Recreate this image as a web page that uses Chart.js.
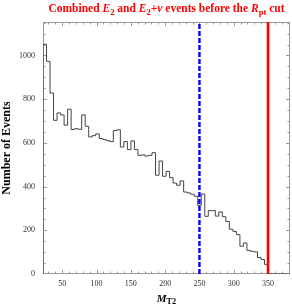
<!DOCTYPE html>
<html>
<head>
<meta charset="utf-8">
<script src="https://cdn.jsdelivr.net/npm/chart.js@4.4.1/dist/chart.umd.min.js"></script>
<style>
  body { margin: 0; background: #fff; }
  #wrap { position: relative; width: 292px; height: 306px; }
  #titulo { position: absolute; left: 43px; width: 247px; top: 2px; line-height: 14px; text-align: center;
            font: bold 11.5px "Liberation Serif", serif; color: #ff0000; white-space: nowrap; }
  #etiquetaX { position: absolute; left: 43px; width: 247px; top: 292px; line-height: 14px; text-align: center;
               font: bold 11px "Liberation Serif", serif; color: #000; white-space: nowrap; }
  sub { font-size: 75%; line-height: 0; position: relative; vertical-align: baseline; top: 0.3em; }
  i { font-style: italic; }
</style>
</head>
<body>
<div id="wrap">
  <canvas id="grafica" width="292" height="306"></canvas>
  <div id="titulo">Combined <i>E</i><sub>2</sub> and <i>E</i><sub>2</sub>+<i>ν</i> events before the <i>R</i><sub>pt</sub> cut</div>
  <div id="etiquetaX"><i>M</i><sub>T2</sub></div>
</div>
<script>
// Datos del histograma (M_T2)
const binStart = 22;
const binWidth = 5.125;
const eventos = [
  1051, 973, 828, 703, 737, 728, 681, 754, 661, 665,
  662, 728, 676, 627, 633, 641, 620, 615, 610, 606,
  656, 660, 581, 606, 569, 609, 569, 543, 545, 540,
  543, 555, 452, 517, 447, 469, 441, 416, 406, 426,
  375, 371, 365, 356, 314, 366, 264, 290, 290, 265,
  284, 262, 240, 205, 195, 180, 127, 142, 108, 104,
  101, 75, 66, 44
];
const xTicks = [50, 100, 150, 200, 250, 300, 350];
const yTicks = [0, 200, 400, 600, 800, 1000];
const corteMT2 = 250;
const corteRpt = 350;
const xMin = 22, xMax = 382;
const yMin = 0, yMax = 1153;

// Construir los puntos del escalonado
const puntos = [{ x: binStart, y: 0 }];
eventos.forEach((v, i) => puntos.push({ x: binStart + i * binWidth, y: v }));
const binEnd = binStart + eventos.length * binWidth;
puntos.push({ x: binEnd, y: 0 });
puntos.push({ x: xMax, y: 0 });

// Marco y marcas hacia dentro, estilo Mathematica
const marcoPlugin = {
  id: 'marco',
  beforeDatasetsDraw(chart) {
    const { ctx, chartArea: a, scales: { x, y } } = chart;
    ctx.save();
    ctx.strokeStyle = '#999';
    ctx.lineWidth = 1;
    ctx.strokeRect(a.left + 0.5, a.top + 0.5, a.right - a.left - 1, a.bottom - a.top - 1);
    ctx.beginPath();
    for (let v = 30; v < xMax; v += 10) {
      const px = Math.round(x.getPixelForValue(v)) + 0.5;
      const len = v % 50 === 0 ? 4 : 2.5;
      ctx.moveTo(px, a.bottom); ctx.lineTo(px, a.bottom - len);
      ctx.moveTo(px, a.top); ctx.lineTo(px, a.top + len);
    }
    for (let v = 50; v < yMax; v += 50) {
      const py = Math.round(y.getPixelForValue(v)) + 0.5;
      const len = v % 200 === 0 ? 4 : 2.5;
      ctx.moveTo(a.left, py); ctx.lineTo(a.left + len, py);
      ctx.moveTo(a.right, py); ctx.lineTo(a.right - len, py);
    }
    ctx.stroke();
    ctx.restore();
  }
};

const fuenteTicks = { family: 'Liberation Serif', size: 8 };

new Chart(document.getElementById('grafica'), {
  type: 'line',
  data: {
    datasets: [
      {
        data: [{ x: corteRpt, y: yMin }, { x: corteRpt, y: yMax }],
        borderColor: '#ff0000', borderWidth: 2.7, pointRadius: 0, order: 1
      },
      {
        data: [{ x: corteMT2, y: yMin }, { x: corteMT2, y: yMax }],
        borderColor: '#0000ff', borderWidth: 2.4, borderDash: [5, 2], pointRadius: 0, order: 1
      },
      {
        data: puntos,
        stepped: 'before',
        borderColor: '#444', borderWidth: 1, pointRadius: 0, order: 2
      }
    ]
  },
  options: {
    responsive: false,
    animation: false,
    layout: { padding: { top: 22, right: 2, left: 0, bottom: 0 } },
    plugins: { legend: { display: false }, tooltip: { enabled: false } },
    scales: {
      x: {
        type: 'linear', min: xMin, max: xMax,
        grid: { display: false, drawTicks: false },
        border: { display: false },
        afterBuildTicks: (s) => { s.ticks = xTicks.map(v => ({ value: v })); },
        afterFit: (s) => { s.height = 32; },
        ticks: { font: fuenteTicks, color: '#333', padding: 5, maxRotation: 0, autoSkip: false,
                 callback: (v) => String(v) }
      },
      y: {
        type: 'linear', min: yMin, max: yMax,
        grid: { display: false, drawTicks: false },
        border: { display: false },
        afterBuildTicks: (s) => { s.ticks = yTicks.map(v => ({ value: v })); },
        afterFit: (s) => { s.width = 43; },
        ticks: { font: fuenteTicks, color: '#333', padding: 8, autoSkip: false,
                 callback: (v) => String(v) },
        title: {
          display: true, text: 'Number of Events', color: '#000',
          font: { family: 'Liberation Serif', size: 12, weight: 'bold' },
          padding: { top: 0, bottom: 0 }
        }
      }
    }
  },
  plugins: [marcoPlugin]
});
</script>
</body>
</html>
